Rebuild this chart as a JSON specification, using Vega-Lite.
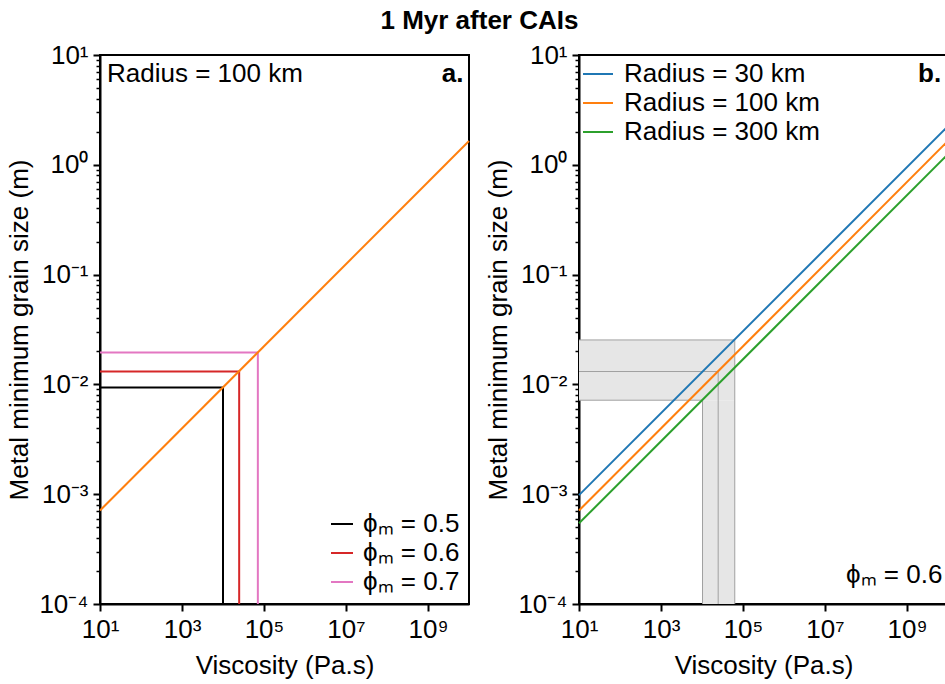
{
  "$schema": "https://vega.github.io/schema/vega-lite/v6.json",
  "padding": {"left": 5, "top": 8, "right": 0, "bottom": 0},
  "title": {"text": "1 Myr after CAIs", "fontSize": 26, "fontWeight": "bold", "font": "Liberation Sans", "anchor": "middle", "offset": 7, "color": "black"},
  "datasets": {
    "lineA": [{"x": 10, "y": 0.00071}, {"x": 10000000000, "y": 1.65}],
    "phi": [
      {"phi": "ϕₘ = 0.5", "o": 1, "x": 10, "y": 0.00935},
      {"phi": "ϕₘ = 0.5", "o": 2, "x": 10000, "y": 0.00935},
      {"phi": "ϕₘ = 0.5", "o": 3, "x": 10000, "y": 0.0001},
      {"phi": "ϕₘ = 0.6", "o": 1, "x": 10, "y": 0.0131},
      {"phi": "ϕₘ = 0.6", "o": 2, "x": 24800, "y": 0.0131},
      {"phi": "ϕₘ = 0.6", "o": 3, "x": 24800, "y": 0.0001},
      {"phi": "ϕₘ = 0.7", "o": 1, "x": 10, "y": 0.0195},
      {"phi": "ϕₘ = 0.7", "o": 2, "x": 70800, "y": 0.0195},
      {"phi": "ϕₘ = 0.7", "o": 3, "x": 70800, "y": 0.0001}
    ],
    "lineB": [
      {"radius": "Radius = 30 km", "x": 10, "y": 0.00098},
      {"radius": "Radius = 30 km", "x": 10000000000, "y": 2.25},
      {"radius": "Radius = 100 km", "x": 10, "y": 0.00071},
      {"radius": "Radius = 100 km", "x": 10000000000, "y": 1.65},
      {"radius": "Radius = 300 km", "x": 10, "y": 0.000543},
      {"radius": "Radius = 300 km", "x": 10000000000, "y": 1.25}
    ],
    "bandRect": [
      {"x": 10, "x2": 63000, "y": 0.00718, "y2": 0.0254},
      {"x": 10300, "x2": 63000, "y": 0.0001, "y2": 0.00718}
    ],
    "bandLine": [
      {"seg": "outer", "o": 1, "x": 10, "y": 0.0254},
      {"seg": "outer", "o": 2, "x": 63000, "y": 0.0254},
      {"seg": "outer", "o": 3, "x": 63000, "y": 0.0001},
      {"seg": "inner", "o": 1, "x": 10, "y": 0.00718},
      {"seg": "inner", "o": 2, "x": 10300, "y": 0.00718},
      {"seg": "inner", "o": 3, "x": 10300, "y": 0.0001},
      {"seg": "mid", "o": 1, "x": 10, "y": 0.0131},
      {"seg": "mid", "o": 2, "x": 24800, "y": 0.0131},
      {"seg": "mid", "o": 3, "x": 24800, "y": 0.0001}
    ],
    "radiusText": [{"x": 14.8, "y": 5.7, "text": "Radius = 100 km"}],
    "aText": [{"x": 7300000000, "y": 5.7, "text": "a."}],
    "bText": [{"x": 6800000000, "y": 5.7, "text": "b."}],
    "phiText": [{"x": 7300000000, "y": 0.000155, "text": "ϕₘ = 0.6"}]
  },
  "hconcat": [
    {
      "width": 369,
      "height": 549,
      "layer": [
        {
          "data": {"name": "phi"},
          "mark": {"type": "line", "strokeWidth": 2},
          "encoding": {
            "x": {"field": "x", "type": "quantitative", "scale": {"type": "log", "domain": [10, 10000000000]},
              "axis": {"title": "Viscosity (Pa.s)", "titlePadding": 10, "values": [10, 1000, 100000, 10000000, 1000000000],
                "labelExpr": "'10' + (datum.value < 1 ? '⁻' : '') + ['⁰','¹','²','³','⁴','⁵','⁶','⁷','⁸','⁹'][abs(round(log(datum.value)/LN10))]"}},
            "y": {"field": "y", "type": "quantitative", "scale": {"type": "log", "domain": [0.0001, 10]},
              "axis": {"title": "Metal minimum grain size (m)",
                "values": [0.0001,0.0002,0.0003,0.0004,0.0005,0.0006,0.0007,0.0008,0.0009,0.001,0.002,0.003,0.004,0.005,0.006,0.007,0.008,0.009,0.01,0.02,0.03,0.04,0.05,0.06,0.07,0.08,0.09,0.1,0.2,0.3,0.4,0.5,0.6,0.7,0.8,0.9,1,2,3,4,5,6,7,8,9,10],
                "tickSize": {"condition": {"test": "abs(log(datum.value)/LN10 - round(log(datum.value)/LN10)) < 0.01", "value": 7}, "value": 4},
                "tickWidth": {"condition": {"test": "abs(log(datum.value)/LN10 - round(log(datum.value)/LN10)) < 0.01", "value": 2}, "value": 1.5},
                "labelExpr": "abs(log(datum.value)/LN10 - round(log(datum.value)/LN10)) > 0.01 ? '' : '10' + (datum.value < 1 ? '⁻' : '') + ['⁰','¹','²','³','⁴','⁵','⁶','⁷','⁸','⁹'][abs(round(log(datum.value)/LN10))]"}},
            "color": {"field": "phi", "type": "nominal",
              "scale": {"domain": ["ϕₘ = 0.5", "ϕₘ = 0.6", "ϕₘ = 0.7"], "range": ["#000000", "#d62728", "#e377c2"]},
              "legend": {"title": null, "orient": "bottom-right", "offset": 9, "symbolType": "stroke", "symbolSize": 484, "symbolStrokeWidth": 2, "labelFontSize": 26, "labelFont": "Liberation Sans", "labelColor": "black", "rowPadding": 3, "labelOffset": 8, "padding": 0, "labelLimit": 400}},
            "order": {"field": "o", "type": "quantitative"}
          }
        },
        {
          "data": {"name": "lineA"},
          "mark": {"type": "line", "strokeWidth": 2, "color": "#ff7f0e"},
          "encoding": {
            "x": {"field": "x", "type": "quantitative"},
            "y": {"field": "y", "type": "quantitative"}
          }
        },
        {
          "data": {"name": "radiusText"},
          "mark": {"type": "text", "align": "left", "baseline": "alphabetic", "fontSize": 26, "font": "Liberation Sans", "color": "black"},
          "encoding": {
            "x": {"field": "x", "type": "quantitative"},
            "y": {"field": "y", "type": "quantitative"},
            "text": {"field": "text"}
          }
        },
        {
          "data": {"name": "aText"},
          "mark": {"type": "text", "align": "right", "baseline": "alphabetic", "fontSize": 26, "fontWeight": "bold", "font": "Liberation Sans", "color": "black"},
          "encoding": {
            "x": {"field": "x", "type": "quantitative"},
            "y": {"field": "y", "type": "quantitative"},
            "text": {"field": "text"}
          }
        }
      ]
    },
    {
      "width": 369,
      "height": 549,
      "layer": [
        {
          "data": {"name": "bandRect"},
          "mark": {"type": "rect", "color": "#e6e6e6", "opacity": 1},
          "encoding": {
            "x": {"field": "x", "type": "quantitative", "scale": {"type": "log", "domain": [10, 10000000000]},
              "axis": {"title": "Viscosity (Pa.s)", "titlePadding": 10, "values": [10, 1000, 100000, 10000000, 1000000000],
                "labelExpr": "'10' + (datum.value < 1 ? '⁻' : '') + ['⁰','¹','²','³','⁴','⁵','⁶','⁷','⁸','⁹'][abs(round(log(datum.value)/LN10))]"}},
            "x2": {"field": "x2"},
            "y": {"field": "y", "type": "quantitative", "scale": {"type": "log", "domain": [0.0001, 10]},
              "axis": {"title": "Metal minimum grain size (m)",
                "values": [0.0001,0.0002,0.0003,0.0004,0.0005,0.0006,0.0007,0.0008,0.0009,0.001,0.002,0.003,0.004,0.005,0.006,0.007,0.008,0.009,0.01,0.02,0.03,0.04,0.05,0.06,0.07,0.08,0.09,0.1,0.2,0.3,0.4,0.5,0.6,0.7,0.8,0.9,1,2,3,4,5,6,7,8,9,10],
                "tickSize": {"condition": {"test": "abs(log(datum.value)/LN10 - round(log(datum.value)/LN10)) < 0.01", "value": 7}, "value": 4},
                "tickWidth": {"condition": {"test": "abs(log(datum.value)/LN10 - round(log(datum.value)/LN10)) < 0.01", "value": 2}, "value": 1.5},
                "labelExpr": "abs(log(datum.value)/LN10 - round(log(datum.value)/LN10)) > 0.01 ? '' : '10' + (datum.value < 1 ? '⁻' : '') + ['⁰','¹','²','³','⁴','⁵','⁶','⁷','⁸','⁹'][abs(round(log(datum.value)/LN10))]"}},
            "y2": {"field": "y2"}
          }
        },
        {
          "data": {"name": "bandLine"},
          "mark": {"type": "line", "strokeWidth": 1, "color": "#a0a0a0"},
          "encoding": {
            "x": {"field": "x", "type": "quantitative"},
            "y": {"field": "y", "type": "quantitative"},
            "detail": {"field": "seg"},
            "order": {"field": "o", "type": "quantitative"}
          }
        },
        {
          "data": {"name": "lineB"},
          "mark": {"type": "line", "strokeWidth": 2},
          "encoding": {
            "x": {"field": "x", "type": "quantitative"},
            "y": {"field": "y", "type": "quantitative"},
            "color": {"field": "radius", "type": "nominal",
              "scale": {"domain": ["Radius = 30 km", "Radius = 100 km", "Radius = 300 km"], "range": ["#1f77b4", "#ff7f0e", "#2ca02c"]},
              "legend": {"title": null, "orient": "top-left", "offset": 3, "symbolType": "stroke", "symbolSize": 900, "symbolStrokeWidth": 2, "labelFontSize": 26, "labelFont": "Liberation Sans", "labelColor": "black", "rowPadding": -2, "labelOffset": 10, "padding": 0, "labelLimit": 400}}
          }
        },
        {
          "data": {"name": "bText"},
          "mark": {"type": "text", "align": "right", "baseline": "alphabetic", "fontSize": 26, "fontWeight": "bold", "font": "Liberation Sans", "color": "black"},
          "encoding": {
            "x": {"field": "x", "type": "quantitative"},
            "y": {"field": "y", "type": "quantitative"},
            "text": {"field": "text"}
          }
        },
        {
          "data": {"name": "phiText"},
          "mark": {"type": "text", "align": "right", "baseline": "alphabetic", "fontSize": 26, "font": "Liberation Sans", "color": "black"},
          "encoding": {
            "x": {"field": "x", "type": "quantitative"},
            "y": {"field": "y", "type": "quantitative"},
            "text": {"field": "text"}
          }
        }
      ]
    }
  ],
  "spacing": 10,
  "resolve": {"scale": {"color": "independent"}, "legend": {"color": "independent"}},
  "config": {
    "font": "Liberation Sans",
    "view": {"stroke": "black", "strokeWidth": 2},
    "axis": {"labelFont": "Liberation Sans", "labelFontSize": 26, "titleFont": "Liberation Sans", "titleFontSize": 26, "titleFontWeight": "normal", "titleColor": "black", "labelColor": "black", "domainColor": "black", "domainWidth": 2, "tickColor": "black", "tickWidth": 2, "tickSize": 7, "grid": false, "labelFlush": false, "labelOverlap": false, "labelPadding": 5, "titlePadding": 6}
  }
}
